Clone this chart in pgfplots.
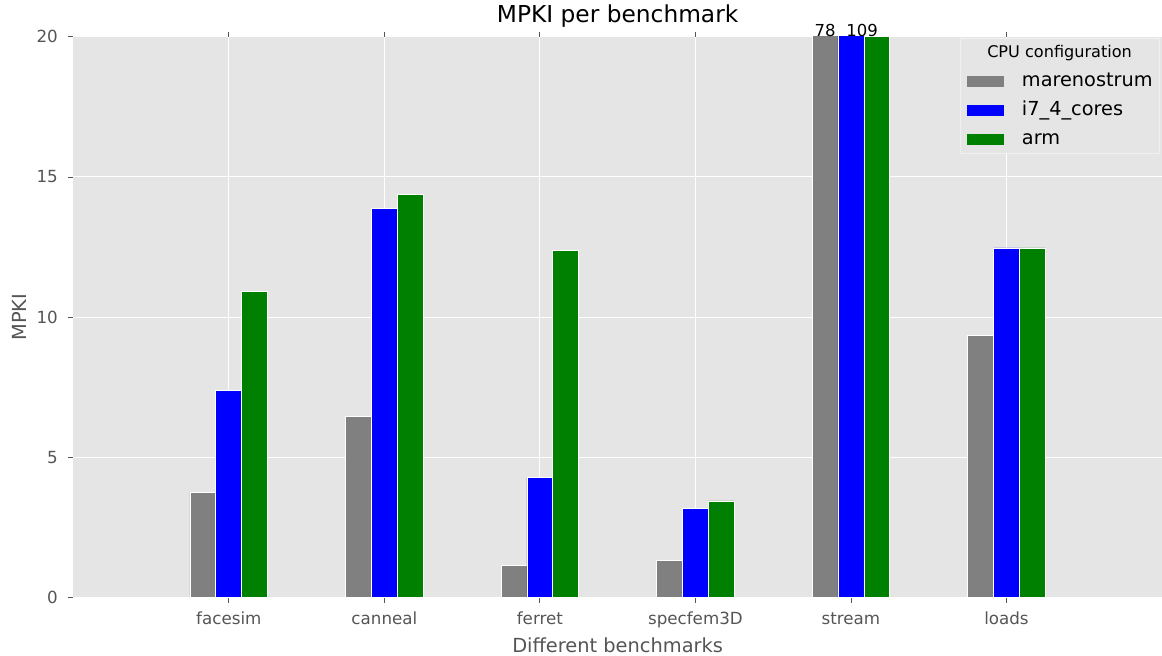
\documentclass[border=0pt]{standalone}
\usepackage{fontspec}
\setmainfont{DejaVu Sans}
\usepackage{pgfplots}
\pgfplotsset{compat=1.18}
\usetikzlibrary{calc}
\definecolor{bg}{HTML}{E5E5E5}
\definecolor{tk}{HTML}{555555}
\definecolor{cgray}{HTML}{808080}
\definecolor{cblue}{HTML}{0000FF}
\definecolor{cgreen}{HTML}{008000}
\pgfplotsset{patchlegend/.style={legend image code/.code={\fill[##1, draw=none] (0pt,-5.5pt) rectangle (37pt,5.5pt);}}}
\begin{document}
\begin{tikzpicture}
\begin{axis}[
  width=1088.7pt, height=561pt, scale only axis,
  xmin=-1, xmax=6, ymin=0, ymax=20,
  clip mode=individual,
  axis background/.style={fill=bg},
  axis line style={draw=none},
  xtick={0,1,2,3,4,5},
  xticklabels={facesim,canneal,ferret,specfem3D,stream,loads},
  ytick={0,5,10,15,20},
  xtick pos=both, ytick pos=left,
  tick align=outside,
  major tick length=5pt,
  tick style={color=tk, line width=0.8pt},
  grid=major,
  major grid style={white, line width=1pt},
  ticklabel style={font=\fontsize{16.7}{20}\selectfont, color=tk},
  /pgf/number format/assume math mode=true,
  xticklabel style={anchor=base, yshift=-21.6pt},
  yticklabel style={anchor=east, inner sep=0pt, xshift=-10.3pt},
  xlabel={Different benchmarks}, ylabel={MPKI},
  label style={font=\fontsize{19.4}{23}\selectfont, color=tk},
  xlabel style={at={(axis description cs:0.5,0)}, anchor=base, inner sep=0pt, yshift=-54.3pt},
  ylabel style={at={(axis description cs:0,0.5)}, anchor=base, inner sep=0pt, yshift=46.6pt},
  title={MPKI per benchmark},
  title style={font=\fontsize{23.3}{27}\selectfont, at={(axis description cs:0.5,1)}, anchor=base, inner sep=0pt, yshift=7.7pt},
  ybar, bar width=0.1667,
  legend cell align=left,
  legend style={at={(1,1)}, anchor=north east, xshift=-2pt, yshift=-1.6pt,
    fill=bg, draw=white!94!black, line width=0.8pt,
    font=\fontsize{19.3}{23}\selectfont,
    inner xsep=7pt, inner ysep=3pt, row sep=7.5pt,
    nodes={inner sep=0pt, text height=16pt, text depth=5.5pt},
    /tikz/every odd column/.style={column sep=17.7pt}},
]
\addlegendimage{empty legend}
\addlegendentry{\hspace*{-34.7pt}\fontsize{16.1}{19}\selectfont CPU configuration}
\addplot[fill=cgray, draw=white, line width=0.8pt, bar shift=-0.1667, patchlegend]
  coordinates {(0,3.76) (1,6.47) (2,1.14) (3,1.32) (4,78) (5,9.34)};
\addlegendentry{marenostrum}
\addplot[fill=cblue, draw=white, line width=0.8pt, bar shift=0, patchlegend]
  coordinates {(0,7.39) (1,13.88) (2,4.28) (3,3.18) (4,109) (5,12.47)};
\addlegendentry{i7\_4\_cores}
\addplot[fill=cgreen, draw=white, line width=0.8pt, bar shift=0.1667, patchlegend]
  coordinates {(0,10.91) (1,14.38) (2,12.37) (3,3.45) (4,20) (5,12.47)};
\addlegendentry{arm}
\node[anchor=base, inner sep=0pt, font=\fontsize{16.5}{20}\selectfont, yshift=0.5pt] at (axis cs:3.834,20) {78};
\node[anchor=base, inner sep=0pt, font=\fontsize{16.5}{20}\selectfont, yshift=0.5pt] at (axis cs:4.072,20) {109};
\end{axis}
\pgfresetboundingbox
\path[use as bounding box] ($(current axis.south west)+(-73.3pt,-57.3pt)$) rectangle ($(current axis.north east)+(0pt,36.7pt)$);
\end{tikzpicture}
\end{document}
